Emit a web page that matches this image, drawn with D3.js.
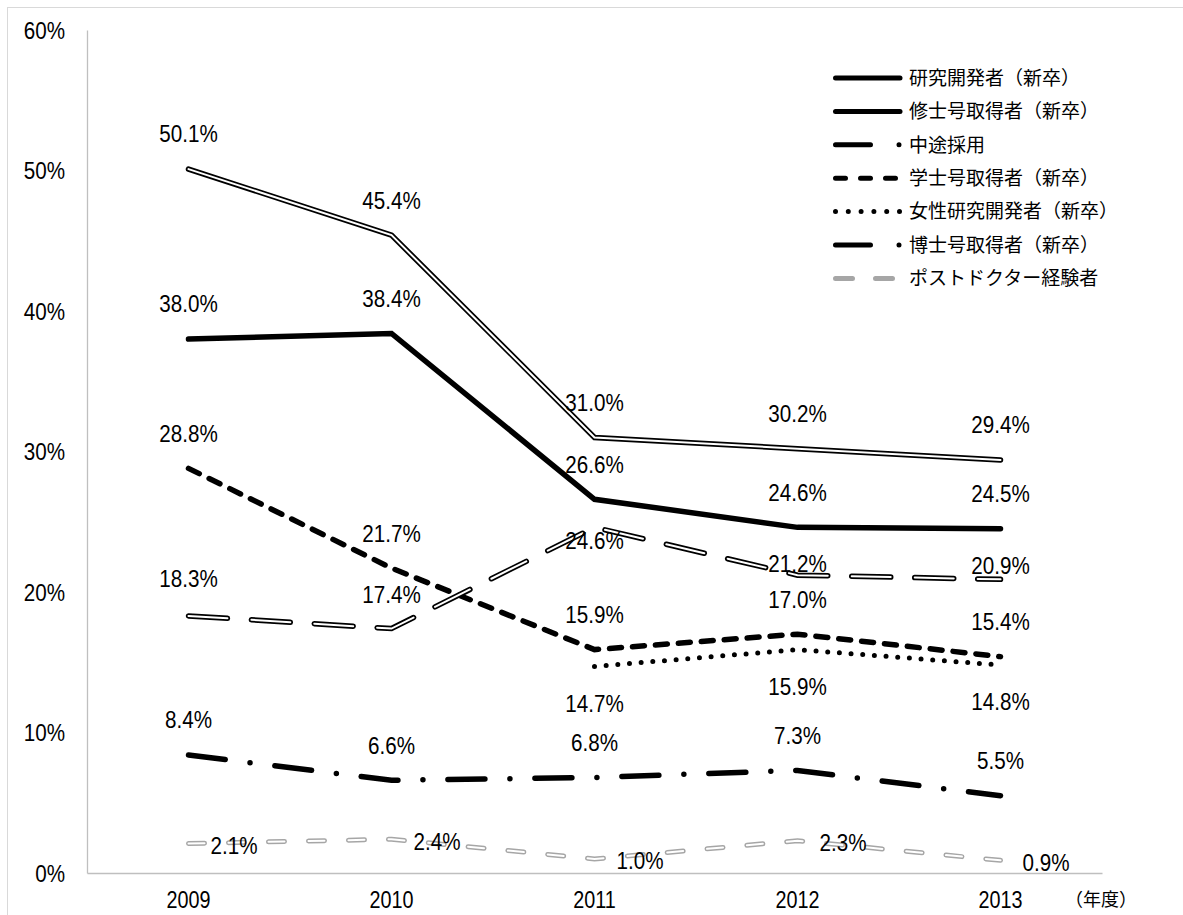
<!DOCTYPE html>
<html>
<head>
<meta charset="utf-8">
<script src="https://cdn.jsdelivr.net/npm/d3@7"></script>
<style>
  html, body { margin: 0; padding: 0; background: #fff; }
  svg { display: block; }
</style>
</head>
<body>
<svg id="chart" width="1183" height="915"></svg>
<script>
// ---------- DATA ----------
const categories = ["2009", "2010", "2011", "2012", "2013"];
const seriesNames = [
  "研究開発者（新卒）",
  "修士号取得者（新卒）",
  "中途採用",
  "学士号取得者（新卒）",
  "女性研究開発者（新卒）",
  "博士号取得者（新卒）",
  "ポストドクター経験者"
];
const researchers = [50.1, 45.4, 31.0, 30.2, 29.4];
const masters     = [38.0, 38.4, 26.6, 24.6, 24.5];
const midCareer   = [18.3, 17.4, 24.6, 21.2, 20.9];
const bachelors   = [28.8, 21.7, 15.9, 17.0, 15.4];
const women       = [null, null, 14.7, 15.9, 14.8];
const doctors     = [8.4, 6.6, 6.8, 7.3, 5.5];
const postdocs    = [2.1, 2.4, 1.0, 2.3, 0.9];
const yTicks = [0, 10, 20, 30, 40, 50, 60];
const xUnitLabel = "（年度）";

// ---------- LAYOUT / STYLE ----------
const NUM_FONT = "'Liberation Sans', Arial, sans-serif";
const NUM_SIZE = 24;
const NUM_SCALE = 0.86;   // condense numerals horizontally
const JP_FONT = "'Noto Sans CJK JP', 'Noto Sans', sans-serif";
const svg = d3.select("#chart");
const plot = { left: 87, right: 1102, top: 30, bottom: 873 };

const x = d3.scaleBand().domain(categories).range([plot.left, plot.right]);
const cx = c => x(c) + x.bandwidth() / 2;
const y = d3.scaleLinear().domain([0, 60]).range([plot.bottom, plot.top]);

function numText(parent, tx, ty, anchor, str, size) {
  const fs = size || NUM_SIZE;
  return parent.append("text")
    .attr("x", tx).attr("y", ty).attr("dy", "0.35em")
    .attr("text-anchor", anchor)
    .attr("transform", `translate(${tx},${ty}) scale(${NUM_SCALE},1) translate(${-tx},${-ty})`)
    .attr("font-family", NUM_FONT).attr("font-size", fs).attr("fill", "#000")
    .text(str);
}

// outer chart border
svg.append("rect")
  .attr("x", 7.5).attr("y", 7.5).attr("width", 1190).attr("height", 930)
  .attr("fill", "none").attr("stroke", "#d9d9d9").attr("stroke-width", 1);

// y axis
const yAxis = svg.append("g")
  .attr("transform", `translate(${plot.left},0)`)
  .call(d3.axisLeft(y).tickValues(yTicks).tickSize(0).tickSizeOuter(0).tickFormat(d => d + "%"));
yAxis.select(".domain").attr("stroke", "#bfbfbf").attr("stroke-width", 1.3);
yAxis.selectAll(".tick").each(function(d) {
  const g = d3.select(this);
  g.select("text").remove();
  numText(g, -22, 0, "end", d + "%");
});

// x axis
const xAxis = svg.append("g")
  .attr("transform", `translate(0,${plot.bottom})`)
  .call(d3.axisBottom(x).tickSize(0).tickSizeOuter(0));
xAxis.select(".domain").attr("stroke", "#bfbfbf").attr("stroke-width", 1.3);
xAxis.selectAll(".tick").each(function(d) {
  const g = d3.select(this);
  g.select("text").remove();
  numText(g, 0, 27, "middle", d, 23);
});

svg.append("text")
  .attr("x", 1101).attr("y", plot.bottom + 27).attr("dy", "0.35em")
  .attr("text-anchor", "middle")
  .attr("font-family", JP_FONT).attr("font-size", 18).attr("fill", "#000")
  .text(xUnitLabel);

// ---------- SERIES ----------
const series = [
  { name: seriesNames[0], values: researchers, layers: [
      { stroke: "#000", width: 5.5, dash: null },
      { stroke: "#fff", width: 2, dash: null }],
    label: "above" },
  { name: seriesNames[1], values: masters, layers: [
      { stroke: "#000", width: 5.5, dash: null }],
    label: "above" },
  { name: seriesNames[2], values: midCareer, layers: [
      { stroke: "#000", width: 5.5, dash: "39,24" },
      { stroke: "#fff", width: 2, dash: "39,24" }],
    label: "custom", dys: [-37, -34, 13, -12, -14] },
  { name: seriesNames[3], values: bachelors, layers: [
      { stroke: "#000", width: 5.5, dash: "12,11" }],
    label: "above" },
  { name: seriesNames[4], values: women, layers: [
      { stroke: "#000", width: 5, dash: "0,11.7" }],
    label: "below" },
  { name: seriesNames[5], values: doctors, layers: [
      { stroke: "#000", width: 5.5, dash: "37,25,0,25" }],
    label: "above" },
  { name: seriesNames[6], values: postdocs, layers: [
      { stroke: "#a6a6a6", width: 5, dash: "16,24" },
      { stroke: "#fff", width: 2, dash: "16,24" }],
    label: "right" }
];

const line = d3.line()
  .defined(d => d.v != null)
  .x(d => cx(d.c))
  .y(d => y(d.v));

[...series].reverse().forEach(s => {
  const pts = categories.map((c, i) => ({ c, v: s.values[i] }));
  s.layers.forEach(L => {
    svg.append("path")
      .datum(pts)
      .attr("d", line)
      .attr("fill", "none")
      .attr("stroke", L.stroke)
      .attr("stroke-width", L.width)
      .attr("stroke-linecap", "round")
      .attr("stroke-linejoin", "miter")
      .attr("stroke-dasharray", L.dash);
  });
});

// data labels
const labelLayer = svg.append("g");
series.forEach(s => {
  categories.forEach((c, i) => {
    const v = s.values[i];
    if (v == null) return;
    let tx = cx(c), ty = y(v), anchor = "middle";
    if (s.label === "above") ty -= 35;
    else if (s.label === "below") ty += 37;
    else if (s.label === "custom") ty += s.dys[i];
    else if (s.label === "right") { tx += 22; ty += 2; anchor = "start"; }
    numText(labelLayer, tx, ty, anchor, v.toFixed(1) + "%");
  });
});

// ---------- LEGEND ----------
const legendSwatches = [
  { stroke: "#000", width: 5, dash: null },
  { stroke: "#000", width: 5, dash: null },
  { stroke: "#000", width: 5, dash: "35,28.5,0,100" },
  { stroke: "#000", width: 5, dash: "10,15" },
  { stroke: "#000", width: 5, dash: "0,12.8" },
  { stroke: "#000", width: 5, dash: "35,28.5,0,100" },
  { stroke: "#a6a6a6", width: 5, dash: "17,23" }
];
const legend = svg.append("g");
seriesNames.forEach((name, i) => {
  const ly = 78 + i * 33.4;
  const sw = legendSwatches[i];
  legend.append("line")
    .attr("x1", 835.5).attr("x2", 900).attr("y1", ly).attr("y2", ly)
    .attr("stroke", sw.stroke).attr("stroke-width", sw.width)
    .attr("stroke-linecap", "round")
    .attr("stroke-dasharray", sw.dash);
  legend.append("text")
    .attr("x", 909).attr("y", ly).attr("dy", "0.36em")
    .attr("font-family", JP_FONT).attr("font-size", 19).attr("fill", "#000")
    .text(name);
});
</script>
</body>
</html>
